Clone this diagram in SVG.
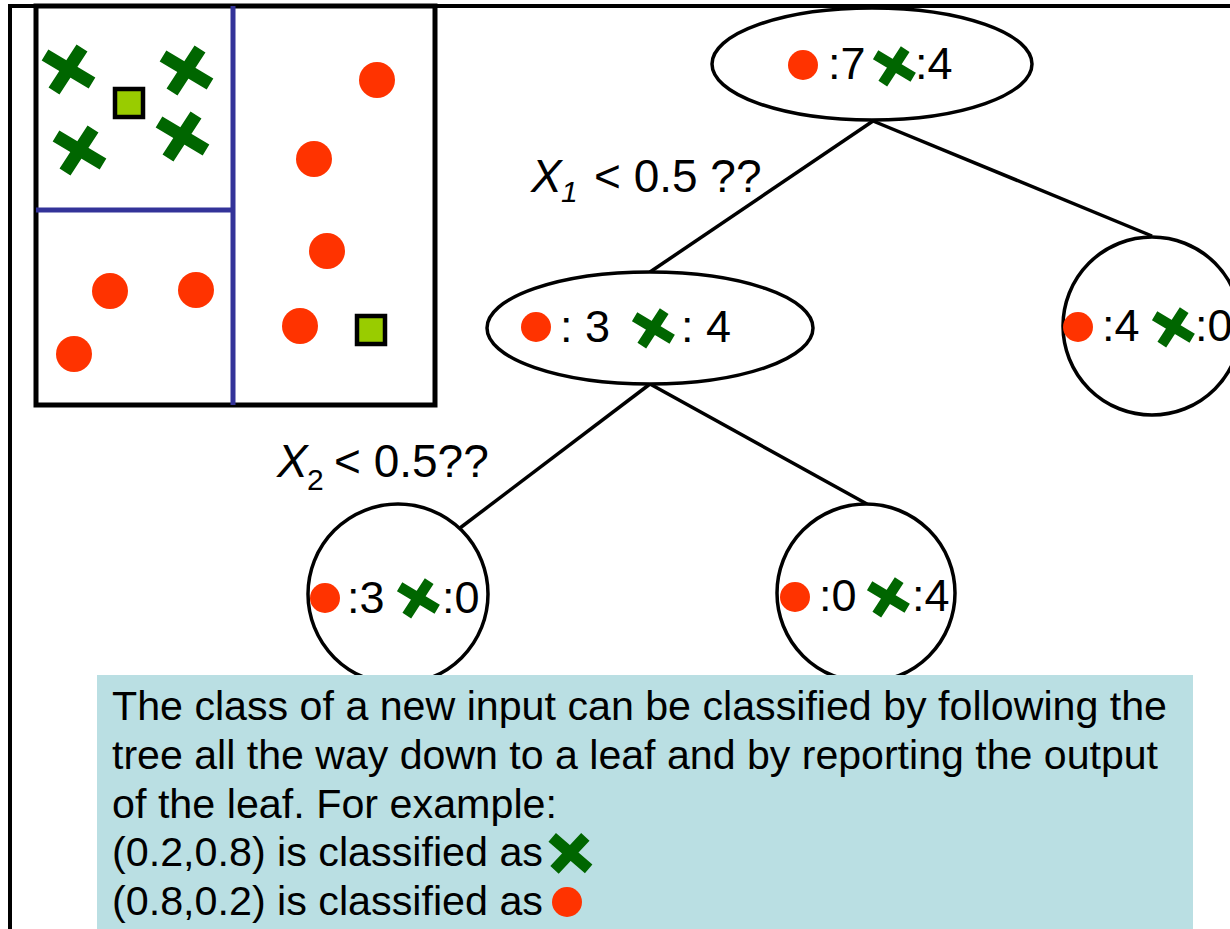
<svg xmlns="http://www.w3.org/2000/svg" xmlns:xlink="http://www.w3.org/1999/xlink" width="1230" height="929" viewBox="0 0 1230 929">
  <style>
    .frame { fill: none; stroke: #000; stroke-width: 4; }
    .plot { fill: none; stroke: #000; stroke-width: 5; }
    .split { stroke: #333399; stroke-width: 5; fill: none; }
    .dot { fill: #ff3300; }
    .query { fill: #99cc00; stroke: #000; stroke-width: 4.5; }
    .node { fill: #fff; stroke: #000; stroke-width: 3.5; }
    .edge { stroke: #000; stroke-width: 3.5; fill: none; }
    .lbl { font-family: "Liberation Sans", Arial, sans-serif; fill: #000; }
    .cnt { font-size: 45px; }
    .cond { font-size: 46px; }
    .sub { font-size: 30px; }
    .note { font-size: 40px; }
  </style>
  <defs>
    <!-- green cross marker, centred on the origin -->
    <path id="xmark" d="M-23,-14 L24,14 M14,-21 L-14,22" stroke="#006600" stroke-width="13" fill="none"/>
  </defs>

  <!-- page frame -->
  <path class="frame" d="M10,929 L10,6 L1230,6"/>

  <!-- feature-space plot -->
  <g id="feature-space">
    <rect class="plot" x="36" y="6" width="399" height="399"/>
    <line class="split" x1="233" y1="6" x2="233" y2="405"/>
    <line class="split" x1="36" y1="210" x2="233" y2="210"/>
    <use href="#xmark" transform="translate(68,69)"/>
    <use href="#xmark" transform="translate(186,70)"/>
    <use href="#xmark" transform="translate(79,150)"/>
    <use href="#xmark" transform="translate(182,136)"/>
    <rect class="query" x="115" y="89" width="28" height="28"/>
    <rect class="query" x="357" y="316" width="28" height="28"/>
    <circle class="dot" cx="377" cy="80" r="18"/>
    <circle class="dot" cx="314" cy="159" r="18"/>
    <circle class="dot" cx="327" cy="251" r="18"/>
    <circle class="dot" cx="300" cy="326" r="18"/>
    <circle class="dot" cx="110" cy="291" r="18"/>
    <circle class="dot" cx="196" cy="290" r="18"/>
    <circle class="dot" cx="74" cy="354" r="18"/>
  </g>

  <!-- tree edges -->
  <g id="connectors">
    <line class="edge" x1="873" y1="121" x2="650" y2="272"/>
    <line class="edge" x1="873" y1="121" x2="1152" y2="236"/>
    <line class="edge" x1="650" y1="384" x2="460" y2="528"/>
    <line class="edge" x1="650" y1="384" x2="867" y2="504"/>
  </g>

  <!-- split conditions -->
  <g id="cond-x1" class="lbl">
    <text class="cond" y="192"><tspan x="531" font-style="italic">X</tspan><tspan class="sub" font-style="italic" x="561" y="202">1</tspan><tspan x="594" y="192">&lt; 0.5 ??</tspan></text>
  </g>
  <g id="cond-x2" class="lbl">
    <text class="cond" y="477"><tspan x="277" font-style="italic">X</tspan><tspan class="sub" x="307" y="490">2</tspan><tspan x="334" y="477">&lt; 0.5??</tspan></text>
  </g>

  <!-- root -->
  <g id="node-root">
    <ellipse class="node" cx="872" cy="64" rx="160" ry="56"/>
    <circle class="dot" cx="803" cy="65" r="15"/>
    <text class="lbl cnt" x="828" y="79">:7</text>
    <use href="#xmark" transform="translate(894,66) scale(0.8)"/>
    <text class="lbl cnt" x="915" y="79">:4</text>
  </g>

  <!-- inner node -->
  <g id="node-mid">
    <ellipse class="node" cx="650" cy="328" rx="163" ry="56"/>
    <circle class="dot" cx="536" cy="327" r="15"/>
    <text class="lbl cnt" x="560" y="342">: 3</text>
    <use href="#xmark" transform="translate(653,328) scale(0.8)"/>
    <text class="lbl cnt" x="681" y="342">: 4</text>
  </g>

  <!-- leaf: right of root -->
  <g id="leaf-right">
    <circle class="node" cx="1152" cy="326" r="89"/>
    <circle class="dot" cx="1078" cy="327" r="15"/>
    <text class="lbl cnt" x="1102" y="341">:4</text>
    <use href="#xmark" transform="translate(1173,327) scale(0.8)"/>
    <text class="lbl cnt" x="1195" y="341">:0</text>
  </g>

  <!-- leaf: X2 true -->
  <g id="leaf-a">
    <circle class="node" cx="398" cy="594" r="90"/>
    <circle class="dot" cx="325" cy="598" r="15"/>
    <text class="lbl cnt" x="347" y="613">:3</text>
    <use href="#xmark" transform="translate(418,598) scale(0.8)"/>
    <text class="lbl cnt" x="442" y="613">:0</text>
  </g>

  <!-- leaf: X2 false -->
  <g id="leaf-b">
    <circle class="node" cx="866" cy="593" r="89"/>
    <circle class="dot" cx="795" cy="597" r="15"/>
    <text class="lbl cnt" x="819" y="611">:0</text>
    <use href="#xmark" transform="translate(888,597) scale(0.8)"/>
    <text class="lbl cnt" x="912" y="611">:4</text>
  </g>

  <!-- explanation box -->
  <g id="note">
    <rect x="97" y="675" width="1096" height="254" fill="#badfe3"/>
    <text class="lbl note" x="112" y="720" textLength="1055" lengthAdjust="spacingAndGlyphs">The class of a new input can be classified by following the</text>
    <text class="lbl note" x="112" y="769" textLength="1046" lengthAdjust="spacingAndGlyphs">tree all the way down to a leaf and by reporting the output</text>
    <text class="lbl note" x="112" y="818" textLength="445" lengthAdjust="spacingAndGlyphs">of the leaf. For example:</text>
    <text class="lbl note" x="112" y="866" textLength="431" lengthAdjust="spacingAndGlyphs">(0.2,0.8) is classified as</text>
    <use href="#xmark" transform="translate(570,853) rotate(10) scale(0.88)"/>
    <text class="lbl note" x="112" y="915" textLength="431" lengthAdjust="spacingAndGlyphs">(0.8,0.2) is classified as</text>
    <circle class="dot" cx="567" cy="902" r="15"/>
  </g>
</svg>
